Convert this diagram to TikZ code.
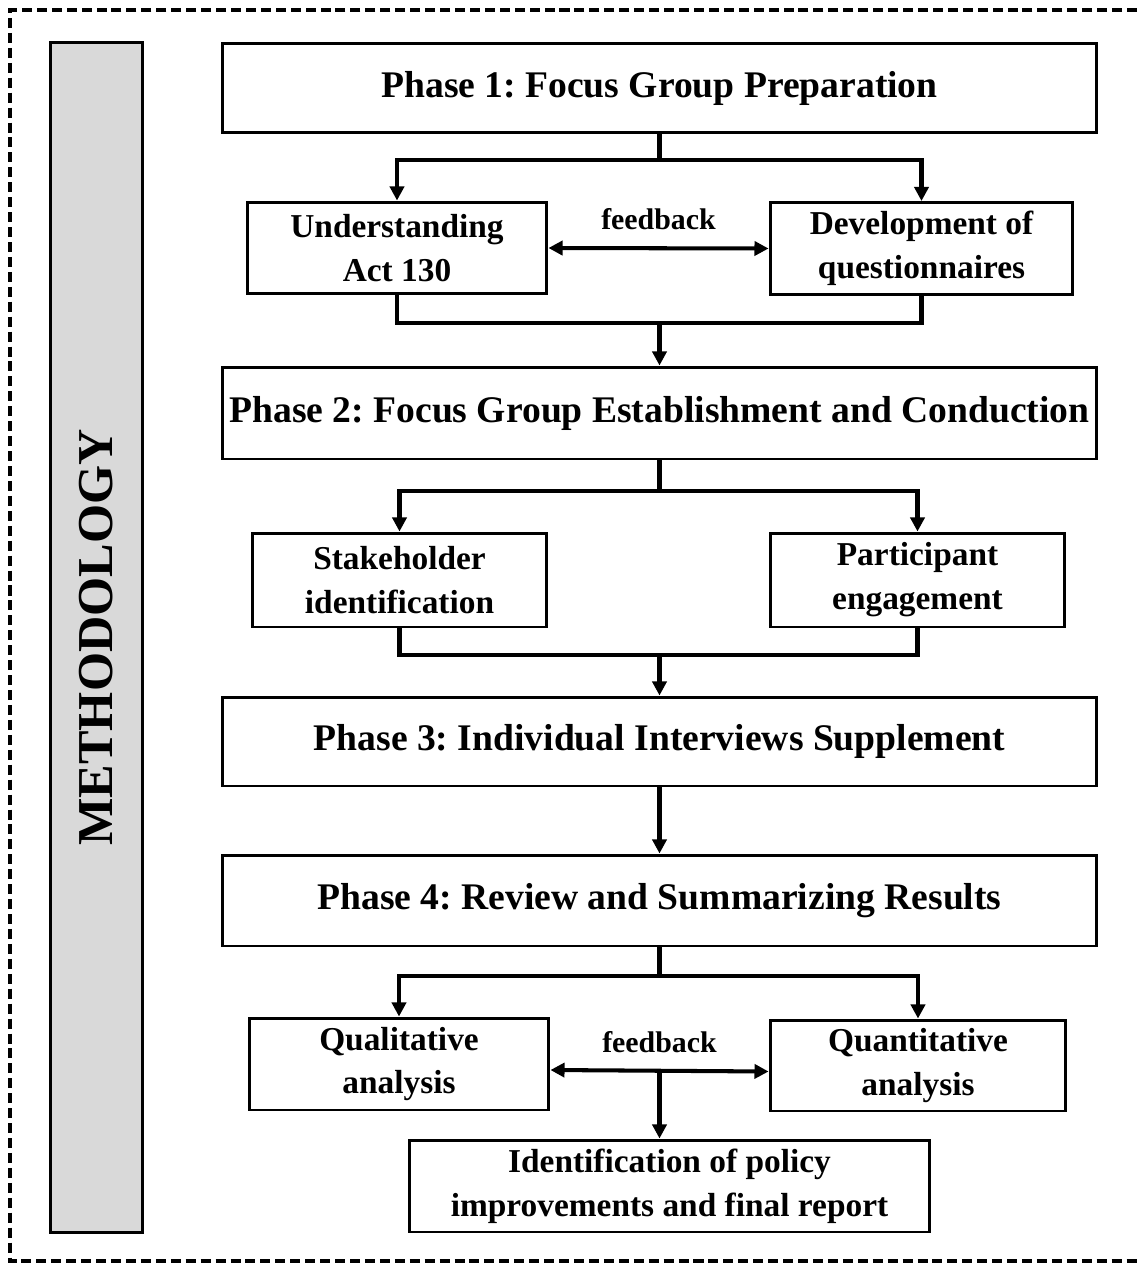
\documentclass[tikz,border=0pt]{standalone}
\usepackage{fontspec}
\setmainfont{Liberation Serif}
\usepackage{xcolor}
\usetikzlibrary{arrows.meta,positioning}
\definecolor{barfill}{RGB}{217,217,217}
\frenchspacing

\begin{document}
\begin{tikzpicture}[x=0.02cm,y=-0.02cm,
    box/.style={draw, line width=1.7pt, align=center, inner sep=0pt, font=\fontsize{19}{25}\selectfont\bfseries},
    phase/.style={box, minimum width=17.5cm, minimum height=1.8cm, font=\fontsize{21.4}{26}\selectfont\bfseries},
    sub/.style={box, minimum width=6cm, minimum height=1.84cm},
    line/.style={line width=2.3pt},
    arr/.style={line, -{Triangle[length=8pt,width=8pt]}},
    arrboth/.style={line, {Triangle[length=8pt,width=8pt]}-{Triangle[length=8pt,width=8pt]}},
    fb/.style={font=\fontsize{17}{20}\selectfont\bfseries}]

      \useasboundingbox (0,0) rectangle (1137,1264);
      \draw[line width=2.3pt, dash pattern=on 5.7pt off 2.8pt] (1137,10) -- (10,10) -- (10,1261) -- (1137,1261);

      \node[draw, line width=1.7pt, fill=barfill, rotate=90, minimum width=23.82cm, minimum height=1.86cm,
            font=\fontsize{28.6}{30}\selectfont\bfseries] (meth) at (96.5,637.5) {METHODOLOGY};

      % phases and steps
      \node[phase] (p1) at (659.5,88) {Phase 1: Focus Group Preparation};
      \node[sub] (und) at (397,248) {Understanding\\Act 130};
      \node[sub, minimum width=6.06cm] (dev) at (921.5,248.5) {Development of\\questionnaires};
      \node[phase, minimum height=1.84cm] (p2) at (659.5,413) {Phase 2: Focus Group Establishment and Conduction};
      \node[sub, minimum width=5.9cm, minimum height=1.88cm] (stk) at (399.5,580) {Stakeholder\\identification};
      \node[sub, minimum width=5.9cm, minimum height=1.88cm] (par) at (917.5,580) {Participant\\engagement};
      \node[phase, minimum height=1.78cm] (p3) at (659.5,741.5) {Phase 3: Individual Interviews Supplement};
      \node[phase, minimum height=1.82cm] (p4) at (659.5,900.5) {Phase 4: Review and Summarizing Results};
      \node[sub] (qual) at (399,1064) {Qualitative\\analysis};
      \node[sub, minimum width=5.92cm, minimum height=1.82cm] (quan) at (918,1065.5) {Quantitative\\analysis};
      \node[sub, minimum width=10.42cm] (fin) at (669.5,1186) {Identification of policy\\improvements and final report};

      \coordinate (s1) at (659.5,160);
      \coordinate (m1) at (659.5,323);
      \coordinate (s2) at (659.5,491);
      \coordinate (m2) at (659.5,655);
      \coordinate (s3) at (659.5,976);

      % connectors
      \draw[arr] (p1.south) -- (s1) -| (und.north);
      \draw[arr] (s1) -| (dev.north);
      \draw[arrboth] (und.east) -- node[fb, above=6pt] {feedback} (dev.west);
      \draw[line] (und.south) |- (m1) -| (dev.south);
      \draw[arr] (m1) -- (p2.north);

      \draw[arr] (p2.south) -- (s2) -| (stk.north);
      \draw[arr] (s2) -| (par.north);
      \draw[line] (stk.south) |- (m2) -| (par.south);
      \draw[arr] (m2) -- (p3.north);

      \draw[arr] (p3.south) -- (p4.north);

      \draw[arr] (p4.south) -- (s3) -| (qual.north);
      \draw[arr] (s3) -| (quan.north);
      \draw[arrboth] ([yshift=-0.12cm]qual.east) -- node[fb, above=6pt] {feedback} coordinate[midway] (c2) ([yshift=-0.12cm]quan.west);
      \draw[arr] (c2) -- (c2 |- fin.north);
\end{tikzpicture}
\end{document}
